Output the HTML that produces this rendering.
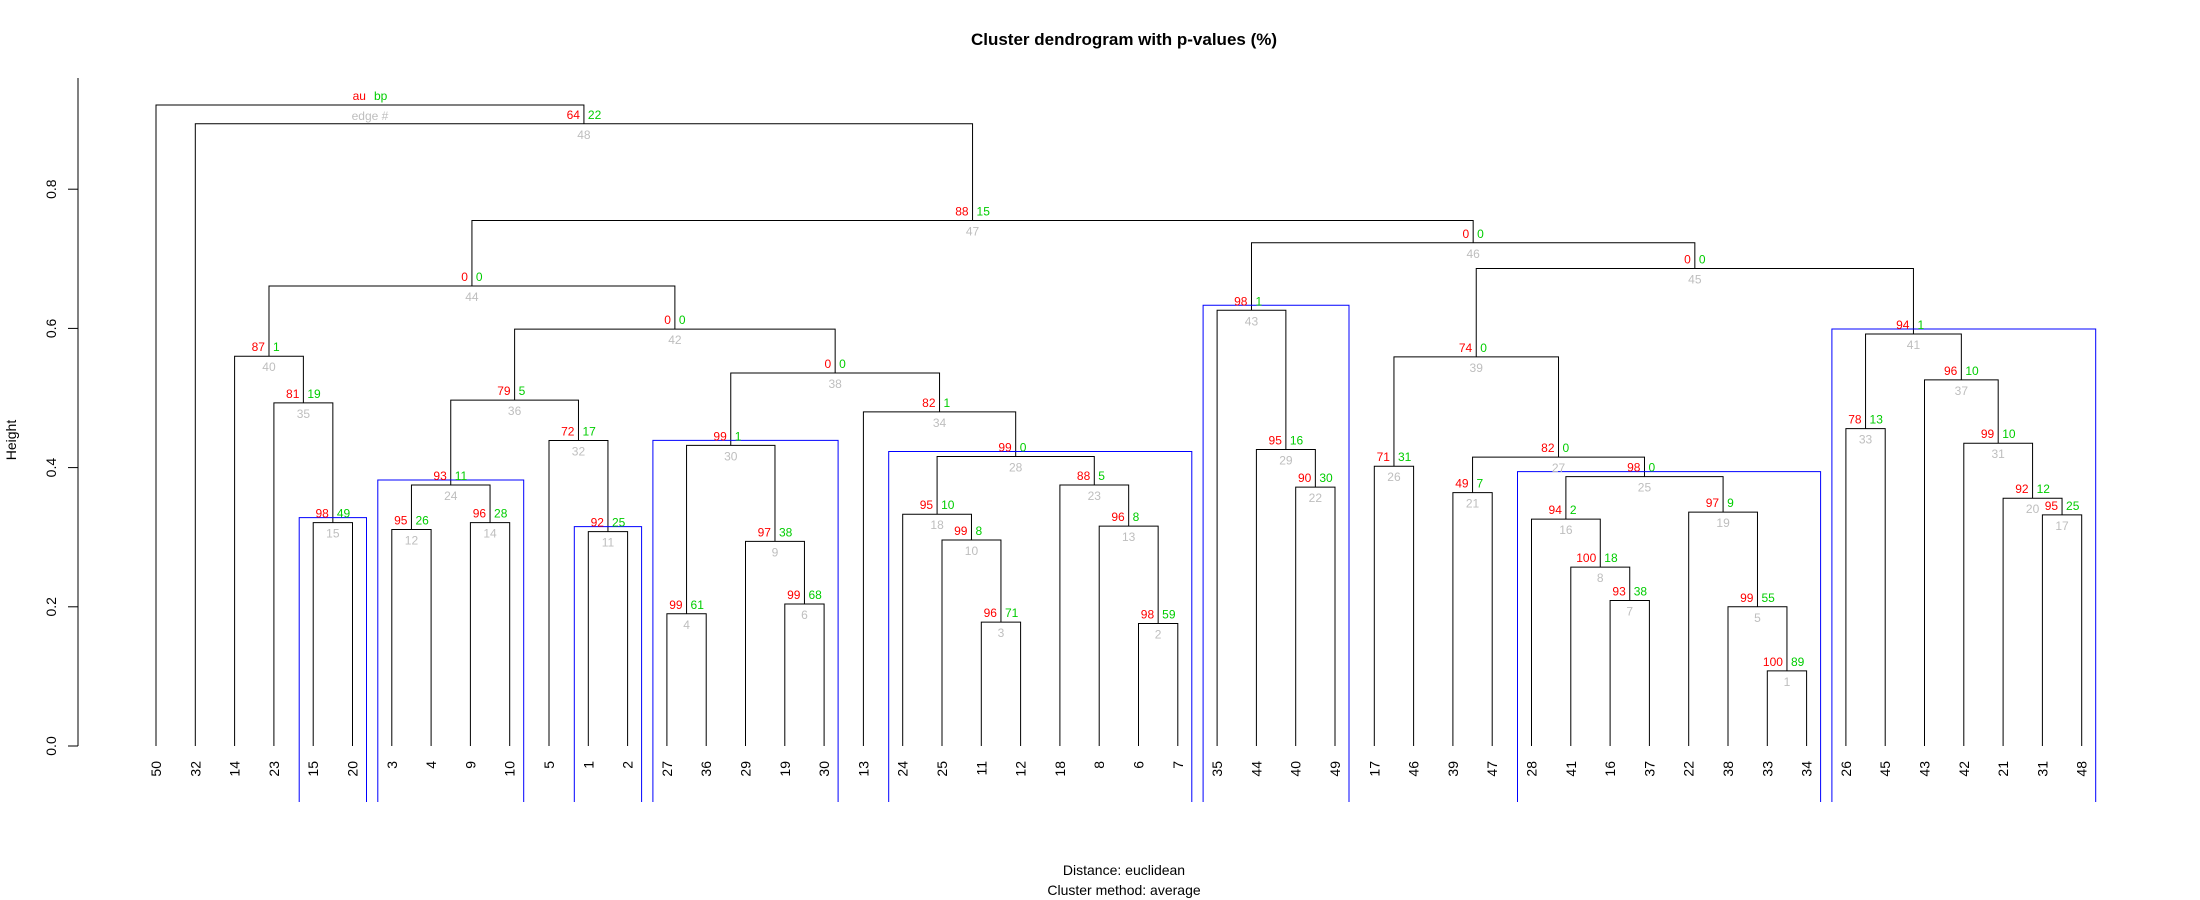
<!DOCTYPE html>
<html><head><meta charset="utf-8"><style>
html,body{margin:0;padding:0;background:#fff}
svg{display:block}
text{font-family:"Liberation Sans",sans-serif}
.n{font-family:"Liberation Sans Narrow","Liberation Sans",sans-serif;font-size:12px}
</style></head><body>
<svg id="chart" width="2200" height="900" viewBox="0 0 2200 900" xmlns="http://www.w3.org/2000/svg">
<text x="1124" y="45" text-anchor="middle" font-size="17" font-weight="bold">Cluster dendrogram with p-values (%)</text>
<text x="1124" y="875" text-anchor="middle" font-size="14">Distance:  euclidean</text>
<text x="1124" y="895" text-anchor="middle" font-size="14">Cluster method: average</text>
<text transform="translate(16,440) rotate(-90)" text-anchor="middle" font-size="14">Height</text>
<g id="axis"></g>
<g id="tree"></g>
<g id="rects"></g>
<g id="labels"></g>
<g id="leaves"></g>
</svg>
<script>
const leafLabels=[50,32,14,23,15,20,3,4,9,10,5,1,2,27,36,29,19,30,13,24,25,11,12,18,8,6,7,35,44,40,49,17,46,39,47,28,41,16,37,22,38,33,34,26,45,43,42,21,31,48];
// merges: "Lk" = leaf at position k, number = edge id
const mergeA=["L41","L25","L21","L13","L40","L16","L37","L36","L15","L20","L11","L6","L24","L8","L4","L35","L48","L19","L39","L47","L33","L29","L23",12,16,"L31",21,18,"L28",4,"L46","L10","L43","L18","L3",24,"L45",30,26,"L2",33,36,"L27",40,39,43,44,"L1","L0"];
const mergeB=["L42","L26","L22","L14",1,"L17","L38",7,6,3,"L12","L7",2,"L9","L5",8,"L49",10,5,17,"L34","L30",13,14,19,"L32",25,23,22,9,20,11,"L44",28,15,32,31,34,27,35,37,38,29,42,41,45,46,47,48];
const heights=[0.108,0.176,0.178,0.190,0.200,0.204,0.209,0.257,0.294,0.296,0.308,0.311,0.316,0.321,0.321,0.326,0.332,0.333,0.336,0.356,0.364,0.372,0.375,0.375,0.387,0.402,0.415,0.416,0.426,0.432,0.435,0.439,0.456,0.480,0.493,0.497,0.526,0.536,0.559,0.560,0.592,0.599,0.626,0.661,0.686,0.723,0.755,0.894,0.921];
const auVals=[100,98,96,99,99,99,93,100,97,99,92,95,96,96,98,94,95,95,97,92,49,90,88,93,98,71,82,99,95,99,99,72,78,82,81,79,96,0,74,87,94,0,98,0,0,0,88,64,"au"];
const bpVals=[89,59,71,61,55,68,38,18,38,8,25,26,8,28,49,2,25,10,9,12,7,30,5,11,0,31,0,0,16,1,10,17,13,1,19,5,10,0,0,1,1,0,1,0,0,0,15,22,"bp"];
const edgeLabels=[1,2,3,4,5,6,7,8,9,10,11,12,13,14,15,16,17,18,19,20,21,22,23,24,25,26,27,28,29,30,31,32,33,34,35,36,37,38,39,40,41,42,43,44,45,46,47,48,"edge #"];
const boxEdges=[15,24,11,30,28,43,25,41];
const yTicks=[0,0.2,0.4,0.6,0.8];

const NS="http://www.w3.org/2000/svg";
const X0=156, DX=39.3, BASE=746, SC=696;
const xL=p=>X0+p*DX;
const yH=h=>BASE-h*SC;
function mk(tag,attrs,parent){const e=document.createElementNS(NS,tag);for(const k in attrs)e.setAttribute(k,attrs[k]);parent.appendChild(e);return e;}

const axis=document.getElementById('axis');
const la=mk('line',{x1:78,y1:yH(0),x2:78,y2:78,stroke:'#000','stroke-width':1},axis);


yTicks.forEach(t=>{
  const tk=mk('line',{x1:68,y1:yH(t),x2:78,y2:yH(t),stroke:'#000'},axis);
  
  
  const tl=mk('text',{transform:`translate(56,${yH(t)}) rotate(-90)`,'text-anchor':'middle','font-size':14},axis);
  
  
  tl.textContent=t.toFixed(1);
});

const tree=document.getElementById('tree');
const info={};
function child(c){
  if(typeof c==='string'){const p=+c.slice(1);return {x:xL(p),y:BASE,min:p,max:p};}
  const n=info[c];return {x:n.x,y:yH(n.h),min:n.min,max:n.max};
}
for(let i=0;i<heights.length;i++){
  const a=child(mergeA[i]), b=child(mergeB[i]);
  const h=heights[i], y=yH(h);
  const p=mk('path',{d:`M${a.x},${a.y}V${y}H${b.x}V${b.y}`,fill:'none',stroke:'#000','stroke-width':1},tree);
  
  
  info[i+1]={x:(a.x+b.x)/2,h:h,min:Math.min(a.min,b.min),max:Math.max(a.max,b.max)};
}

const rects=document.getElementById('rects');
boxEdges.forEach(e=>{
  const n=info[e];
  const x1=xL(n.min)-14, x2=xL(n.max)+14, yt=yH(n.h)-5;
  const r=mk('path',{d:`M${x1},802V${yt}H${x2}V802`,fill:'none',stroke:'#0000ff','stroke-width':1},rects);
  
  
});

const labels=document.getElementById('labels');
for(let i=0;i<heights.length;i++){
  const n=info[i+1], y=yH(n.h);
  const a=mk('text',{x:n.x-4,y:y-5,'text-anchor':'end',fill:'#ff0000',class:'n'},labels);
  
  
  a.textContent=auVals[i];
  const b=mk('text',{x:n.x+4,y:y-5,'text-anchor':'start',fill:'#00cd00',class:'n'},labels);
  
  
  b.textContent=bpVals[i];
  const e=mk('text',{x:n.x,y:y+15,'text-anchor':'middle',fill:'#bebebe',class:'n'},labels);
  
  
  e.textContent=edgeLabels[i];
}

const leaves=document.getElementById('leaves');
leafLabels.forEach((l,p)=>{
  const t=mk('text',{transform:`translate(${xL(p)+5},761) rotate(-90)`,'text-anchor':'end','font-size':14},leaves);
  
  
  t.textContent=l;
});
</script>
</body></html>
